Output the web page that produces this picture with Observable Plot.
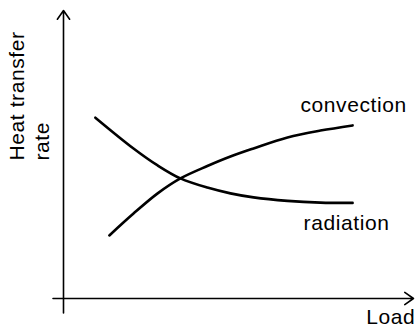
<!DOCTYPE html>
<html>
<head>
<meta charset="utf-8">
<script src="https://cdn.jsdelivr.net/npm/d3@7"></script>
<script src="https://cdn.jsdelivr.net/npm/@observablehq/plot@0.6"></script>
<style>
  html, body { margin: 0; padding: 0; background: #fff; }
</style>
</head>
<body>
<div id="chart"></div>
<script>
// Schematic values (arbitrary units)
const loadRadiation = [0.91, 2.0, 2.69, 3.34, 4.11, 4.77, 5.43, 6.4, 7.34, 8.26];
const rateRadiation = [6.28, 5.21, 4.62, 4.17, 3.85, 3.65, 3.51, 3.39, 3.33, 3.32];
const loadConvection = [1.31, 2.0, 2.69, 3.34, 4.11, 4.77, 5.43, 6.4, 7.34, 8.26];
const rateConvection = [2.19, 2.95, 3.65, 4.17, 4.6, 4.93, 5.21, 5.59, 5.83, 6.01];

const seriesNames = ["convection", "radiation"];
const labelLoad = [6.77, 6.86];
const labelRate = [6.7, 2.6];

const xAxisTitle = "Load";
const yAxisTitleLines = ["Heat transfer", "rate"];

// axis extents (data units)
const xDomain = [0, 10];
const yDomain = [0, 10];
const xAxisStart = -0.3;
const yAxisStart = -0.5;

const radiation = loadRadiation.map((x, i) => ({x, y: rateRadiation[i]}));
const convection = loadConvection.map((x, i) => ({x, y: rateConvection[i]}));
const labels = seriesNames.map((name, i) => ({name, x: labelLoad[i], y: labelRate[i]}));

const font = "'Liberation Sans', Arial, sans-serif";
const fs = 21;

const chart = Plot.plot({
  width: 415,
  height: 327,
  marginLeft: 63,
  marginRight: 2,
  marginTop: 10,
  marginBottom: 29,
  x: {domain: xDomain, axis: null},
  y: {domain: yDomain, axis: null},
  style: {fontFamily: font, background: "#fff", overflow: "visible", letterSpacing: "0.6px"},
  marks: [
    Plot.arrow([{x1: 0, y1: yAxisStart, x2: 0, y2: yDomain[1]}], {
      x1: "x1", y1: "y1", x2: "x2", y2: "y2",
      stroke: "black", strokeWidth: 1.6, headLength: 10, headAngle: 70, insetEnd: 0
    }),
    Plot.arrow([{x1: xAxisStart, y1: 0, x2: xDomain[1], y2: 0}], {
      x1: "x1", y1: "y1", x2: "x2", y2: "y2",
      stroke: "black", strokeWidth: 1.6, headLength: 10, headAngle: 70, insetEnd: 0
    }),
    Plot.line(radiation, {x: "x", y: "y", curve: "catmull-rom", stroke: "black", strokeWidth: 2.6}),
    Plot.line(convection, {x: "x", y: "y", curve: "catmull-rom", stroke: "black", strokeWidth: 2.6}),
    Plot.text(labels, {x: "x", y: "y", text: "name", textAnchor: "start", fontSize: fs, fill: "black"}),
    Plot.text([xAxisTitle], {x: 10.05, y: -0.66, text: d => d, textAnchor: "end", fontSize: fs, fill: "black"}),
    Plot.text([yAxisTitleLines[0]], {x: -1.31, y: 4.79, text: d => d, rotate: -90, textAnchor: "start", fontSize: fs, fill: "black"}),
    Plot.text([yAxisTitleLines[1]], {x: -0.6, y: 4.79, text: d => d, rotate: -90, textAnchor: "start", fontSize: fs, fill: "black"})
  ]
});
document.getElementById("chart").appendChild(chart);
</script>
</body>
</html>
